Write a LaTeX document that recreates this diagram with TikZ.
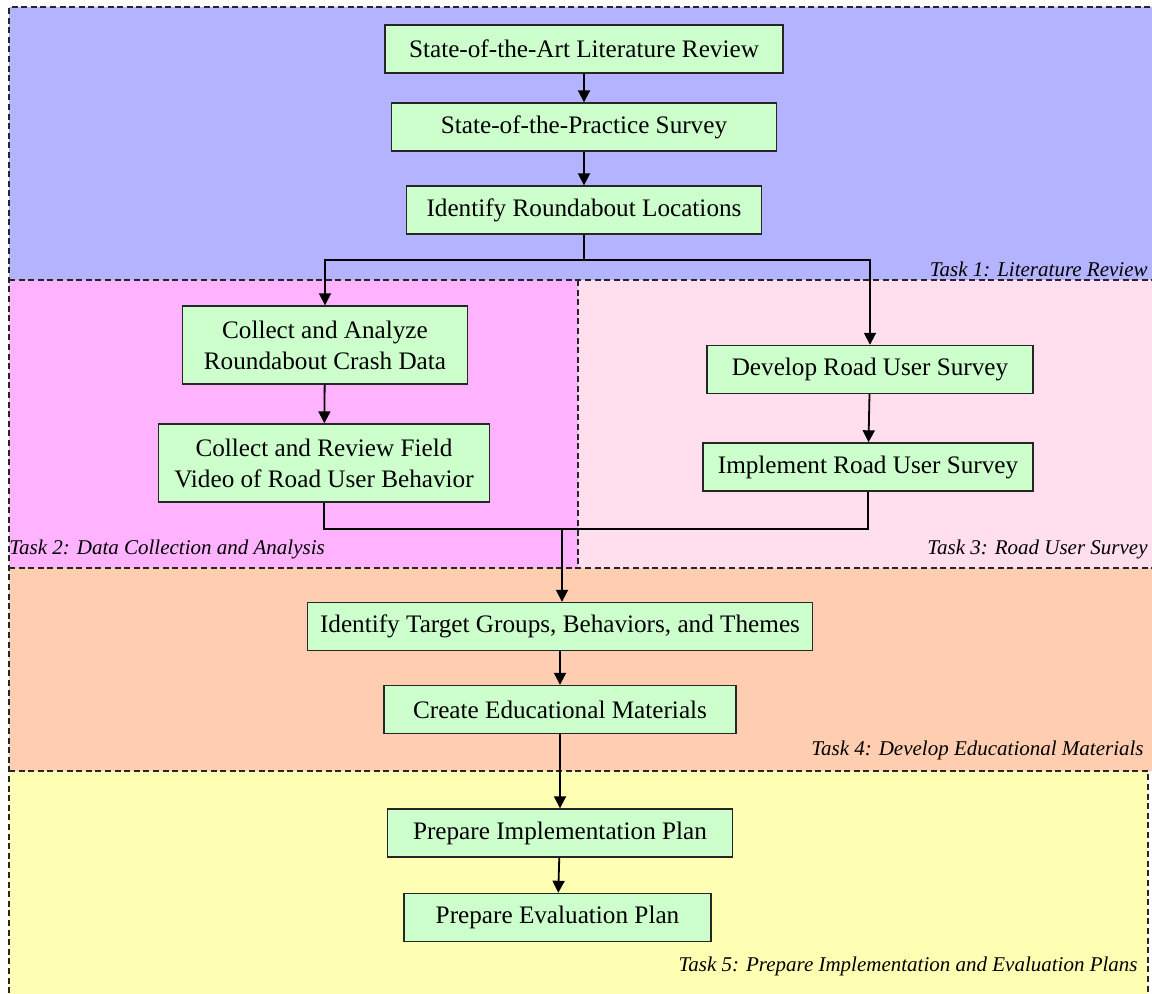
\documentclass[tikz,border=0pt]{standalone}
\usepackage{fontspec}
\setmainfont{Liberation Serif}
\usetikzlibrary{arrows.meta}
\definecolor{litblue}{HTML}{B3B3FF}
\definecolor{datamagenta}{HTML}{FFB3FF}
\definecolor{surveypink}{HTML}{FFDFEE}
\definecolor{matorange}{HTML}{FFCEB0}
\definecolor{planyellow}{HTML}{FFFFB3}
\definecolor{stagegreen}{HTML}{CCFFCC}
\tikzset{
	chart/.style={x=0.5pt, y=-0.5pt, font=\fontsize{12.6pt}{15.5pt}\selectfont,
	              >={Triangle[length=6pt,width=6pt]}},
	stage/.style={draw=black!85, line width=0.7pt, fill=stagegreen, align=center,
	              inner sep=2pt, minimum height=24pt},
	flow/.style={->, line width=0.9pt},
	link/.style={line width=0.9pt},
	zone/.style={draw=black!85, dash pattern=on 3pt off 1.8pt, line width=0.8pt},
	zonetitle/.style={font=\fontsize{10.5pt}{12pt}\selectfont\itshape, inner sep=0pt},
}

\begin{document}
\begin{tikzpicture}[chart]
\useasboundingbox (0,0) rectangle (1152,993);
\clip (0,0) rectangle (1152,993);

% ---------- task regions ----------
\fill[litblue]     (9,7)     rectangle (1160,280);
\fill[datamagenta] (9,280)   rectangle (578,568);
\fill[surveypink]  (578,280) rectangle (1160,568);
\fill[matorange]   (9,568)   rectangle (1160,771);
\fill[planyellow]  (9,771)   rectangle (1148,1000);
\draw[zone] (1160,7) -- (9,7) -- (9,1000);
\draw[zone] (9,280) -- (1160,280);
\draw[zone] (578,280) -- (578,568);
\draw[zone] (9,568) -- (1160,568);
\draw[zone] (9,771) -- (1148,771) -- (1148,1000);

\node[zonetitle, anchor=base east] (t1) at (1148,276) {Task 1: Literature Review};
\node[zonetitle, anchor=base west] (t2) at (9,554)    {Task 2: Data Collection and Analysis};
\node[zonetitle, anchor=base east] (t3) at (1148,554) {Task 3: Road User Survey};
\node[zonetitle, anchor=base east] (t4) at (1144,755) {Task 4: Develop Educational Materials};
\node[zonetitle, anchor=base east] (t5) at (1138,971) {Task 5: Prepare Implementation and Evaluation Plans};

% ---------- steps ----------
\node[stage, minimum width=199pt]   (litreview) at (584,49)  {State-of-the-Art Literature Review};
\node[stage, minimum width=192.5pt] (practice)  at (584,127) {State-of-the-Practice Survey};
\node[stage, minimum width=177.5pt] (locations) at (584,210) {Identify Roundabout Locations};

\node[stage, minimum width=142.5pt, minimum height=39pt] (crash) at (325,345)
    {Collect and Analyze\\Roundabout Crash Data};
\node[stage, minimum width=165.5pt, minimum height=39pt] (video) at (324,463)
    {Collect and Review Field\\Video of Road User Behavior};

\node[stage, minimum width=163pt] (develop)   at (870,369.5) {Develop Road User Survey};
\node[stage, minimum width=165pt] (implement) at (868,467)   {Implement Road User Survey};

\node[stage, minimum width=252.5pt] (targets)   at (560,626.5) {Identify Target Groups, Behaviors, and Themes};
\node[stage, minimum width=176pt]   (materials) at (560,709.5) {Create Educational Materials};
\node[stage, minimum width=172.5pt] (implplan)  at (560,833)   {Prepare Implementation Plan};
\node[stage, minimum width=153.5pt] (evalplan)  at (557.5,917.5) {Prepare Evaluation Plan};

% ---------- connectors ----------
\draw[flow] (litreview) -- (practice);
\draw[flow] (practice) -- (locations);
\draw[flow] (locations.south) -- ++(0,25) -| (crash.north);
\draw[flow] (locations.south) -- ++(0,25) -| (develop.north);
\draw[flow] (crash) -- (video);
\draw[flow] (develop) -- (implement);

\coordinate (merge) at (562,529);
\draw[link] (video.south) |- (merge);
\draw[link] (implement.south) |- (merge);
\draw[flow] (merge) -- (merge |- targets.north);

\draw[flow] (targets) -- (materials);
\draw[flow] (materials) -- (implplan);
\draw[flow] (implplan) -- (evalplan);

\end{tikzpicture}
\end{document}
